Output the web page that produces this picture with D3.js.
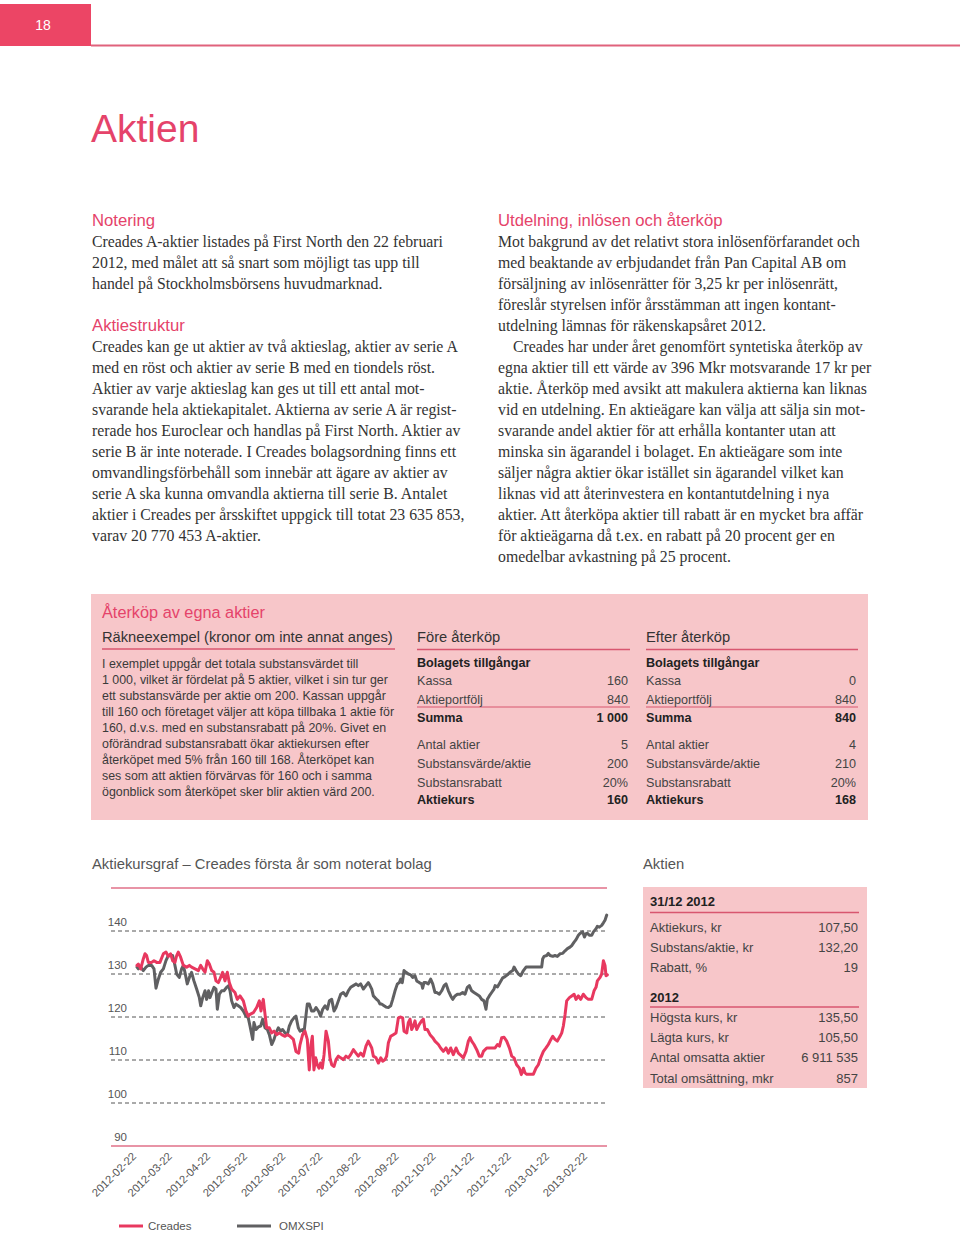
<!DOCTYPE html>
<html><head><meta charset="utf-8">
<script src="https://cdn.jsdelivr.net/npm/d3@7"></script>
<style>
html,body{margin:0;padding:0;background:#fff;}
svg{display:block;}
</style></head>
<body>
<svg id="page" width="960" height="1233"></svg>
<script>
// ---------------- DATA ----------------
const pageNumber = "18";
const pageTitle = "Aktien";

const noteringHeading = "Notering";
const noteringLines = [
  "Creades A-aktier listades på First North den 22 februari",
  "2012, med målet att så snart som möjligt tas upp till",
  "handel på Stockholmsbörsens huvudmarknad."
];
const strukturHeading = "Aktiestruktur";
const strukturLines = [
  "Creades kan ge ut aktier av två aktieslag, aktier av serie A",
  "med en röst och aktier av serie B med en tiondels röst.",
  "Aktier av varje aktieslag kan ges ut till ett antal mot-",
  "svarande hela aktiekapitalet. Aktierna av serie A är regist-",
  "rerade hos Euroclear och handlas på First North. Aktier av",
  "serie B är inte noterade. I Creades bolagsordning finns ett",
  "omvandlingsförbehåll som innebär att ägare av aktier av",
  "serie A ska kunna omvandla aktierna till serie B. Antalet",
  "aktier i Creades per årsskiftet uppgick till totat 23 635 853,",
  "varav 20 770 453 A-aktier."
];
const utdelningHeading = "Utdelning, inlösen och återköp";
const utdelningLines = [
  "Mot bakgrund av det relativt stora inlösenförfarandet och",
  "med beaktande av erbjudandet från Pan Capital AB om",
  "försäljning av inlösenrätter för 3,25 kr per inlösenrätt,",
  "föreslår styrelsen inför årsstämman att ingen kontant-",
  "utdelning lämnas för räkenskapsåret 2012.",
  "Creades har under året genomfört syntetiska återköp av",
  "egna aktier till ett värde av 396 Mkr motsvarande 17 kr per",
  "aktie. Återköp med avsikt att makulera aktierna kan liknas",
  "vid en utdelning. En aktieägare kan välja att sälja sin mot-",
  "svarande andel aktier för att erhålla kontanter utan att",
  "minska sin ägarandel i bolaget. En aktieägare som inte",
  "säljer några aktier ökar istället sin ägarandel vilket kan",
  "liknas vid att återinvestera en kontantutdelning i nya",
  "aktier. Att återköpa aktier till rabatt är en mycket bra affär",
  "för aktieägarna då t.ex. en rabatt på 20 procent ger en",
  "omedelbar avkastning på 25 procent."
];
const utdelningIndentLine = 5;

const boxHeading = "Återköp av egna aktier";
const exampleHeading = "Räkneexempel (kronor om inte annat anges)";
const exampleLines = [
  "I exemplet uppgår det totala substansvärdet till",
  "1 000, vilket är fördelat på 5 aktier, vilket i sin tur ger",
  "ett substansvärde per aktie om 200. Kassan uppgår",
  "till 160 och företaget väljer att köpa tillbaka 1 aktie för",
  "160, d.v.s. med en substansrabatt på 20%. Givet en",
  "oförändrad substansrabatt ökar aktiekursen efter",
  "återköpet med 5% från 160 till 168. Återköpet kan",
  "ses som att aktien förvärvas för 160 och i samma",
  "ögonblick som återköpet sker blir aktien värd 200."
];
const tableHeaders = ["Före återköp", "Efter återköp"];
const tableRowLabels = ["Bolagets tillgångar", "Kassa", "Aktieportfölj", "Summa",
  "Antal aktier", "Substansvärde/aktie", "Substansrabatt", "Aktiekurs"];
const tableRowBold = [true, false, false, true, false, false, false, true];
const foreValues = ["", "160", "840", "1 000", "5", "200", "20%", "160"];
const efterValues = ["", "0", "840", "840", "4", "210", "20%", "168"];

const chartTitle = "Aktiekursgraf – Creades första år som noterat bolag";
const keyTitle = "Aktien";
const keyGroups = ["31/12 2012", "2012"];
const keyLabels1 = ["Aktiekurs, kr", "Substans/aktie, kr", "Rabatt, %"];
const keyValues1 = ["107,50", "132,20", "19"];
const keyLabels2 = ["Högsta kurs, kr", "Lägta kurs, kr", "Antal omsatta aktier", "Total omsättning, mkr"];
const keyValues2 = ["135,50", "105,50", "6 911 535", "857"];

// Chart series: [days since listing 2012-02-22, price level]
const listingDate = "2012-02-22";
const creades = [
  [0,132.0],[1.1,132.3],[3.0,131.2],[5.1,133.5],[6.5,134.7],[7.8,134.3],[9.2,132.7],[11.9,132.7],
  [13.8,133.1],[16.0,132.7],[18.6,132.7],[21.4,134.7],[23.5,135.1],[25.4,134.1],[27.3,134.7],[28.9,133.1],
  [30.8,132.7],[32.2,134.3],[33.5,135.1],[35.4,133.9],[37.6,132.0],[40.3,131.6],[42.5,132.0],[44.3,131.6],
  [47.1,131.2],[49.8,130.8],[51.7,132.0],[53.3,131.2],[55.2,130.4],[57.1,133.1],[58.7,132.3],[60.6,130.8],
  [62.5,130.4],[64.1,128.4],[66.0,128.0],[67.3,128.8],[69.5,130.4],[71.4,128.4],[73.3,130.4],[74.9,128.0],
  [76.8,126.5],[79.5,125.7],[81.4,124.1],[83.6,124.9],[86.3,123.75],[88.4,121.4],[90.3,120.2],
  [91.7,120.6],[94.4,121.0],[97.1,122.2],[99.3,123.75],[100.6,121.4],[102.5,124.1],[103.9,120.6],[105.2,117.5],
  [107.4,117.5],[109.3,116.3],[111.2,116.7],[113.3,115.9],[115.5,116.3],[117.4,115.9],[120.1,115.5],[122.0,115.9],
  [124.2,115.5],[126.9,114.8],[129.0,112.0],[131.2,111.6],[132.3,113.6],[134.4,115.9],[136.3,116.7],[138.2,114.8],
  [139.8,107.7],[141.2,113.6],[142.3,115.5],[143.6,107.7],[145.0,110.5],[146.3,108.9],[147.7,108.1],[149.0,109.3],
  [150.4,108.1],[151.8,111.25],[153.4,116.7],[155.3,114.4],[156.6,110.5],[158.0,108.9],[159.9,108.5],[161.5,110.1],
  [163.4,110.9],[165.3,110.5],[167.4,110.1],[169.6,110.9],[171.5,110.5],[173.4,111.25],[175.6,112.4],[177.7,111.6],
  [179.6,110.9],[181.5,111.6],[183.7,110.9],[185.8,113.2],[187.7,114.4],
  [189.1,113.6],[190.5,112.8],[191.8,110.9],[194.0,110.5],[195.9,109.3],[197.8,110.5],[199.4,109.7],[201.3,110.1],
  [202.6,110.9],[204.0,114.0],[205.9,115.5],[208.0,115.9],[210.2,116.3],[212.1,119.8],[214.0,120.0],[215.6,119.8],
  [216.7,116.7],[218.9,116.3],[220.2,118.7],[221.6,119.5],[222.9,117.1],[224.3,117.9],[225.6,119.1],[227.0,117.1],
  [229.1,118.3],[231.0,119.1],[232.4,119.5],[233.7,117.1],[235.6,117.1],[237.8,115.9],[240.0,115.2],[241.8,114.4],
  [244.6,113.6],[246.4,112.8],[248.6,112.0],[250.8,112.8],[252.7,111.6],[254.6,112.8],[256.7,111.25],[258.9,112.8],
  [260.8,111.6],[263.5,110.9],[264.8,110.5],[267.0,112.0],[268.9,114.4],[270.3,115.2],[271.6,114.4],[273.5,113.6],
  [275.7,112.4],[277.8,110.9],[279.7,110.9],[281.1,112.0],[283.8,112.8],
  [286.5,112.8],[290.6,112.8],[292.5,113.6],[294.1,113.2],[296.0,115.2],[297.9,115.3],[300.0,114.4],[302.2,112.8],
  [304.1,110.9],[306.0,110.5],[308.1,108.9],[310.3,108.1],[311.9,106.6],[313.6,108.1],[314.9,107.0],[316.3,106.7],
  [319.0,106.7],[321.7,106.7],[323.8,108.1],[325.7,108.9],[327.6,110.5],[329.8,112.0],[331.9,112.8],[333.8,113.6],
  [335.2,114.4],[337.4,115.5],[339.2,114.8],[341.1,114.4],[343.3,115.5],[344.7,116.3],[346.0,117.9],[347.4,120.6],
  [348.7,123.75],[350.9,124.5],[352.8,124.9],[354.7,125.3],[356.3,124.1],[358.2,124.9],[360.1,124.1],[362.2,125.3],
  [364.4,124.5],[366.3,124.1],[369.0,124.1],[370.9,126.1],[372.5,126.9],[373.6,128.4],[375.8,129.2],[377.1,130.0],
  [378.5,133.1],[379.8,132.0],[380.6,129.6],[381.7,129.8]
];
const omxspi = [
  [0,131.6],[1.1,131.2],[3.0,131.6],[5.1,130.8],[7.3,131.6],[9.2,132.0],[11.9,132.0],[13.8,131.2],
  [15.4,126.7],[17.3,128.8],[19.2,130.4],[21.4,131.2],[23.5,133.1],[25.4,134.3],[27.3,134.3],[28.9,134.3],
  [30.0,133.1],[32.2,130.0],[34.3,129.2],[36.2,131.2],[37.6,132.0],[38.9,130.4],[40.8,127.7],[42.5,129.2],
  [44.3,130.4],[46.2,128.4],[48.4,126.5],[50.6,124.5],[51.7,122.6],[53.3,124.5],[55.2,126.1],[56.5,124.1],
  [58.1,126.1],[59.2,124.5],[60.8,125.7],[62.5,126.9],[64.1,126.5],[65.2,121.8],[66.8,125.3],[68.7,126.1],
  [70.6,126.1],[72.7,126.9],[74.4,127.3],[75.5,126.1],[76.8,123.75],[78.7,122.2],[80.3,123.0],[82.2,122.6],
  [84.1,122.2],[86.3,121.4],[88.4,120.2],[90.3,119.8],
  [91.7,117.9],[93.9,114.8],[94.9,118.7],[96.6,117.1],[98.5,117.7],[100.4,117.9],[102.0,119.5],[103.9,117.5],
  [105.8,117.1],[107.4,115.9],[109.3,113.6],[111.2,114.8],[112.8,116.3],[114.7,117.5],[116.6,116.7],[118.2,117.1],
  [120.1,116.3],[122.0,115.9],[123.6,117.9],[125.5,119.1],[127.4,119.8],[129.0,120.2],[130.9,117.5],[132.3,116.7],
  [134.4,117.1],[135.5,116.3],[136.6,119.1],[138.2,123.0],[139.8,123.0],[141.7,121.4],[143.6,121.4],[145.3,122.2],
  [147.2,121.4],[149.0,120.2],[150.7,121.8],[152.6,122.6],[154.5,121.8],[156.1,123.75],[158.0,124.1],[159.9,121.4],
  [161.5,122.2],[163.4,123.75],[165.3,125.3],[167.4,125.7],[169.6,124.9],[171.5,126.1],[173.4,126.9],[175.6,127.3],
  [177.7,127.7],[179.6,127.3],[181.5,127.7],[183.7,126.5],[185.8,127.3],[187.7,128.0],
  [189.1,127.3],[190.5,126.5],[191.8,124.9],[193.2,124.5],[194.5,124.1],[195.9,123.75],[197.2,123.0],[198.6,123.0],
  [200.5,122.6],[202.1,122.3],[204.0,122.2],[205.9,122.6],[207.5,124.1],[209.4,126.1],[211.3,127.7],[212.9,128.0],
  [214.0,128.8],[215.3,128.0],[216.7,130.8],[218.3,130.4],[220.2,130.0],[222.1,129.8],[223.7,129.2],[225.6,129.6],
  [227.0,128.4],[229.1,128.0],[231.0,127.7],[231.8,126.7],[232.9,128.0],[234.5,128.0],[236.4,127.7],[238.3,128.8],
  [240.0,127.7],[241.8,125.7],[243.2,125.7],[245.4,125.3],[247.3,126.1],[249.2,127.3],[250.8,127.7],[252.7,126.1],
  [254.6,124.9],[256.2,124.1],[258.1,124.9],[260.0,125.3],[262.1,125.3],[264.3,125.7],[266.2,125.3],[268.1,126.9],
  [269.7,127.3],[271.6,126.1],[273.5,125.7],[275.7,125.3],[277.8,124.9],[279.7,124.1],[281.6,123.75],[283.2,121.8],
  [284.3,124.1],[285.9,124.9],[287.8,125.7],[289.7,126.5],
  [290.6,127.3],[292.5,127.0],[294.6,128.0],[296.8,129.1],[298.7,129.4],[300.6,129.8],[302.7,130.4],[304.9,130.8],
  [306.0,131.6],[307.6,130.8],[309.5,130.0],[311.4,129.6],[313.6,130.8],[315.7,131.6],[317.6,131.6],[320.3,131.6],
  [323.0,131.6],[325.7,131.6],[328.4,131.6],[329.2,133.5],[330.3,134.1],[332.5,134.3],[333.8,134.8],[335.2,134.3],
  [337.4,134.1],[339.2,134.3],[341.1,134.1],[343.3,134.7],[345.5,134.8],[347.4,135.4],[349.3,135.9],[351.4,136.25],
  [352.8,136.6],[354.7,137.4],[356.3,138.0],[358.2,139.0],[359.5,139.4],[361.7,139.8],[363.1,138.6],[364.4,139.4],
  [365.5,139.5],[367.1,139.0],[369.0,139.0],[370.4,139.8],[372.5,140.5],[373.6,141.1],[375.2,140.9],[377.1,141.3],
  [378.5,141.9],[379.8,142.5],[381.2,143.7]
];
const xTickLabels = ["2012-02-22","2012-03-22","2012-04-22","2012-05-22","2012-06-22","2012-07-22",
  "2012-08-22","2012-09-22","2012-10-22","2012-11-22","2012-12-22","2013-01-22","2013-02-22"];
const yTicks = [90, 100, 110, 120, 130, 140];
const yDomain = [90, 150];
const seriesNames = ["Creades", "OMXSPI"];
const seriesColors = ["#e8385f", "#606062"];

// ---------------- STYLE ----------------
const RED = "#e5436a";
const PINK = "#f7c6c9";
const RULE = "#d8566f";
const SANS = "'Liberation Sans', Arial, Helvetica, sans-serif";
const SERIF = "'Liberation Serif', 'Times New Roman', serif";
const BODY = "#333333";
const BODYSIZE = 15.8;

const svg = d3.select("#page");
svg.append("rect").attr("width", 960).attr("height", 1233).attr("fill", "#fff");

function txt(g, x, y, s, o = {}) {
  return g.append("text").attr("x", x).attr("y", y).text(s)
    .attr("font-family", o.family || SANS)
    .attr("font-size", o.size || 13)
    .attr("font-weight", o.weight || "normal")
    .attr("fill", o.fill || BODY)
    .attr("text-anchor", o.anchor || "start");
}

// ---------------- HEADER ----------------
svg.append("rect").attr("x", 0).attr("y", 4).attr("width", 91).attr("height", 42).attr("fill", "#ec4565");
txt(svg, 43, 30, pageNumber, {size: 14, fill: "#fff", anchor: "middle"});
svg.append("line").attr("x1", 91).attr("x2", 960).attr("y1", 45.5).attr("y2", 45.5)
  .attr("stroke", "#e0627c").attr("stroke-width", 2);
txt(svg, 91, 142, pageTitle, {size: 39, fill: RED});

// ---------------- TEXT COLUMNS ----------------
txt(svg, 92, 226, noteringHeading, {size: 16.7, fill: RED});
noteringLines.forEach((l, i) => txt(svg, 92, 247 + i * 21, l, {family: SERIF, size: BODYSIZE}));
txt(svg, 92, 331, strukturHeading, {size: 16.7, fill: RED});
strukturLines.forEach((l, i) => txt(svg, 92, 352 + i * 21, l, {family: SERIF, size: BODYSIZE}));
txt(svg, 498, 226, utdelningHeading, {size: 16.7, fill: RED});
utdelningLines.forEach((l, i) => txt(svg, i === utdelningIndentLine ? 513 : 498, 247 + i * 21, l, {family: SERIF, size: BODYSIZE}));

// ---------------- PINK BOX ----------------
svg.append("rect").attr("x", 91).attr("y", 594).attr("width", 777).attr("height", 226).attr("fill", PINK);
txt(svg, 102, 618, boxHeading, {size: 16.3, fill: RED});
txt(svg, 102, 642, exampleHeading, {size: 14.7, fill: "#333"});
svg.append("line").attr("x1", 102).attr("x2", 395).attr("y1", 649).attr("y2", 649).attr("stroke", RULE).attr("stroke-width", 1.5);
exampleLines.forEach((l, i) => txt(svg, 102, 667.5 + i * 16, l, {size: 12.4, fill: "#3a3a3a"}));

const rowY = [662, 680, 699, 717, 744, 763, 782, 799];
[[417, 628, foreValues], [646, 856, efterValues]].forEach(([x0, x1, vals], k) => {
  txt(svg, x0, 642, tableHeaders[k], {size: 14.7, fill: "#333"});
  svg.append("line").attr("x1", x0).attr("x2", x1 + 2).attr("y1", 649.5).attr("y2", 649.5).attr("stroke", RULE).attr("stroke-width", 1.5);
  svg.append("line").attr("x1", x0).attr("x2", x1 + 2).attr("y1", 707).attr("y2", 707).attr("stroke", RULE).attr("stroke-width", 1);
  tableRowLabels.forEach((lab, i) => {
    const o = {size: 12.6, fill: tableRowBold[i] ? "#222" : "#444", weight: tableRowBold[i] ? "bold" : "normal"};
    txt(svg, x0, rowY[i] + 4.5, lab, o);
    if (vals[i]) txt(svg, x1, rowY[i] + 4.5, vals[i], Object.assign({}, o, {anchor: "end"}));
  });
});

// ---------------- KEY FIGURES BOX ----------------
txt(svg, 643, 869, keyTitle, {size: 14.8, fill: "#555"});
svg.append("rect").attr("x", 643).attr("y", 887).attr("width", 224).attr("height", 201).attr("fill", PINK);
const keyY1 = [927, 947, 967], keyY2 = [1017, 1037, 1057, 1078];
txt(svg, 650, 905.5, keyGroups[0], {size: 13, fill: "#222", weight: "bold"});
svg.append("line").attr("x1", 650).attr("x2", 859).attr("y1", 912.5).attr("y2", 912.5).attr("stroke", RULE).attr("stroke-width", 1.5);
keyLabels1.forEach((l, i) => {
  txt(svg, 650, keyY1[i] + 4.5, l, {size: 13, fill: "#444"});
  txt(svg, 858, keyY1[i] + 4.5, keyValues1[i], {size: 13, fill: "#444", anchor: "end"});
});
txt(svg, 650, 1001.5, keyGroups[1], {size: 13, fill: "#222", weight: "bold"});
svg.append("line").attr("x1", 650).attr("x2", 859).attr("y1", 1007).attr("y2", 1007).attr("stroke", RULE).attr("stroke-width", 1.5);
keyLabels2.forEach((l, i) => {
  txt(svg, 650, keyY2[i] + 4.5, l, {size: 13, fill: "#444"});
  txt(svg, 858, keyY2[i] + 4.5, keyValues2[i], {size: 13, fill: "#444", anchor: "end"});
});

// ---------------- CHART ----------------
txt(svg, 92, 869, chartTitle, {size: 14.8, fill: "#555"});
const parse = d3.timeParse("%Y-%m-%d");
const t0 = parse(listingDate);
const toDate = d => new Date(t0.getTime() + d * 864e5);
const tickDates = xTickLabels.map(parse);
const x = d3.scaleTime().domain([tickDates[0], tickDates[tickDates.length - 1]]).range([137, 588]);
const y = d3.scaleLinear().domain(yDomain).range([1146, 888]);
const gx0 = 111, gx1 = 607;

const chart = svg.append("g");
chart.append("line").attr("x1", gx0).attr("x2", gx1).attr("y1", y(yDomain[1])).attr("y2", y(yDomain[1]))
  .attr("stroke", "#e07089").attr("stroke-width", 1.6);
yTicks.forEach(v => {
  if (v === yDomain[0]) {
    chart.append("line").attr("x1", gx0).attr("x2", gx1).attr("y1", y(v)).attr("y2", y(v))
      .attr("stroke", "#e07089").attr("stroke-width", 1.6);
  } else {
    chart.append("line").attr("x1", gx0).attr("x2", gx1).attr("y1", y(v)).attr("y2", y(v))
      .attr("stroke", "#555").attr("stroke-width", 1).attr("stroke-dasharray", "4,3");
  }
  txt(chart, 127, y(v) - 5, String(v), {size: 11.5, fill: "#555", anchor: "end"});
});

const line = d3.line().x(d => x(toDate(d[0]))).y(d => y(d[1])).curve(d3.curveLinear);
[omxspi, creades].forEach((s, k) => {
  chart.append("path").datum(s).attr("d", line).attr("fill", "none")
    .attr("stroke", seriesColors[1 - k]).attr("stroke-width", 3)
    .attr("stroke-linejoin", "round").attr("stroke-linecap", "round");
});

// x tick labels
tickDates.forEach((d, i) => {
  chart.append("text").attr("transform", `translate(${x(d)},${1157}) rotate(-45)`)
    .attr("text-anchor", "end").attr("font-family", SANS).attr("font-size", 11.2)
    .attr("fill", "#555").text(xTickLabels[i]);
});

// legend
const legX = [119, 237], legW = [24, 34], legT = [148, 279];
seriesNames.forEach((n, i) => {
  chart.append("line").attr("x1", legX[i]).attr("x2", legX[i] + legW[i]).attr("y1", 1226).attr("y2", 1226)
    .attr("stroke", seriesColors[i]).attr("stroke-width", 3);
  txt(chart, legT[i], 1230, n, {size: 11.5, fill: "#555"});
});
</script>
</body></html>
